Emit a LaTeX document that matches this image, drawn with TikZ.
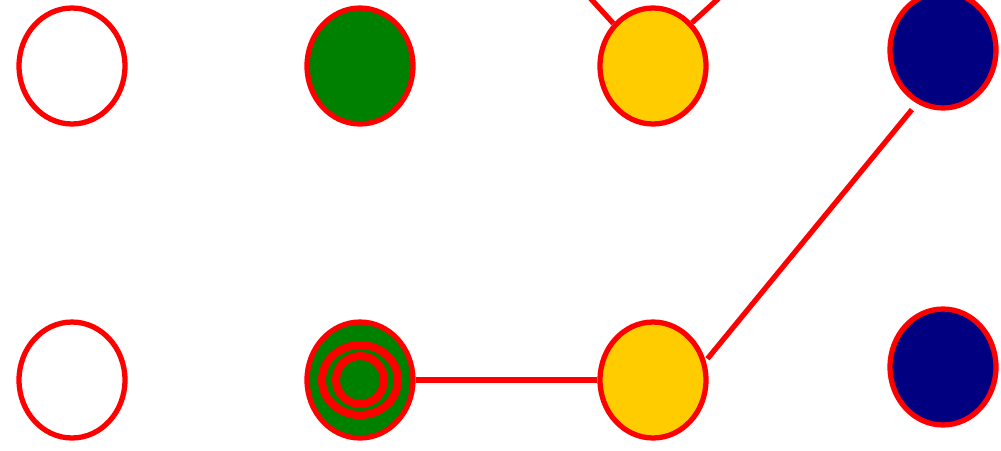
\documentclass[tikz,border=0pt]{standalone}
\usetikzlibrary{shapes.geometric}
\definecolor{dotgreen}{RGB}{0,128,0}
\definecolor{dotyellow}{RGB}{255,204,0}
\definecolor{dotnavy}{RGB}{0,0,128}
\begin{document}
\begin{tikzpicture}[x=0.02cm,y=-0.02cm,
  dot/.style={draw=red,line width=3pt,ellipse,inner sep=0pt,minimum width=2.12cm,minimum height=2.32cm},
  link/.style={draw=red,line width=3pt},
  ring/.style={draw=red,line width=4.5pt}]
\useasboundingbox (0,0) rectangle (1001,450);
\clip (0,0) rectangle (1001,450);

\node[dot] (w1) at (72,66) {};
\node[dot,fill=dotgreen] (g1) at (360,66) {};
\node[dot,fill=dotyellow] (y1) at (653,66) {};
\node[dot,fill=dotnavy] (n1) at (943,50) {};
\node[dot] (w2) at (72,380) {};
\node[dot,fill=dotgreen] (g2) at (360,380) {};
\node[dot,fill=dotyellow] (y2) at (653,380) {};
\node[dot,fill=dotnavy] (n2) at (943,367) {};

\draw[ring] (g2) ellipse [x radius=0.76cm,y radius=0.70cm];
\draw[ring] (g2) circle [radius=0.48cm];

\coordinate (upleft) at (529,-69);
\coordinate (upright) at (789,-66);

\draw[link] (g2) -- (y2);
\draw[link,shorten <=1.5pt,shorten >=4.5pt] (y2.20) -- (n1.244);
\draw[link] (y1.133) -- (upleft);
\draw[link] (y1.48) -- (upright);
\end{tikzpicture}
\end{document}
